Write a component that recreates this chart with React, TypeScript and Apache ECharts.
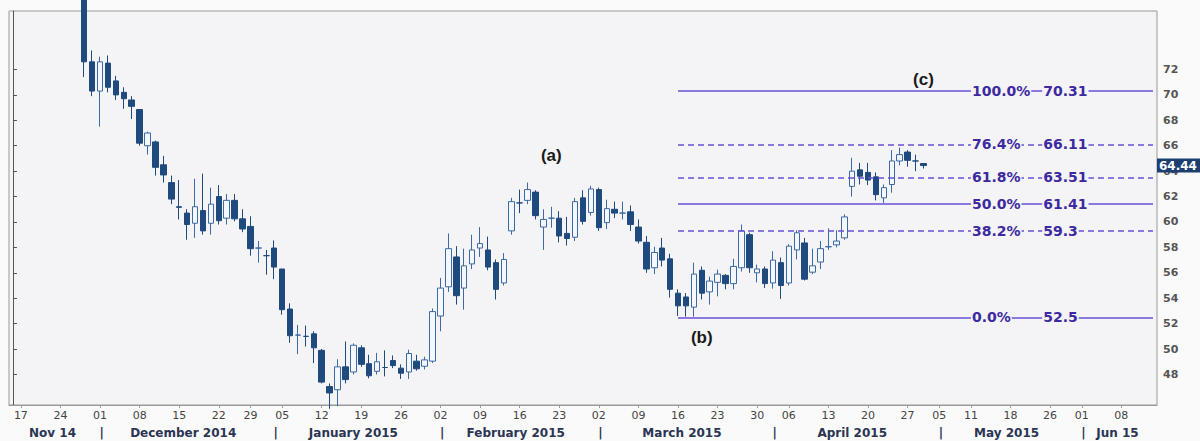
import React, { useEffect, useRef } from 'react';
import * as echarts from 'echarts';

// ---------- data ----------
const START = '2014-11-14';
const END = '2015-06-12';
const HOLIDAYS = ['2014-12-25', '2015-01-01', '2015-04-03', '2015-05-01', '2015-05-04', '2015-05-25'];
const FIRST_CANDLE = '2014-11-27';

// [open, close, low, high] one per trading day from FIRST_CANDLE
const ohlc: number[][] = [
  [77.5, 72.6, 71.4, 77.8], [72.6, 70.3, 69.9, 73.5], [70.3, 72.6, 67.5, 73.0], [72.5, 70.6, 70.2, 73.1],
  [71.1, 70.0, 69.6, 71.5], [70.2, 69.7, 68.9, 70.6], [69.6, 69.1, 68.1, 69.9], [68.85, 66.2, 66.0, 68.85],
  [66.0, 67.0, 65.3, 67.1], [66.3, 64.3, 63.65, 66.4], [64.5, 63.7, 63.1, 65.2], [63.1, 61.8, 61.4, 63.65],
  [61.2, 61.15, 60.2, 63.3], [60.7, 59.8, 58.6, 61.0], [59.9, 61.2, 58.75, 63.4], [60.9, 59.3, 59.0, 63.8],
  [59.9, 61.4, 59.0, 62.7], [62.0, 60.1, 59.8, 62.9], [60.3, 61.7, 59.8, 62.2], [61.7, 60.25, 60.05, 62.2],
  [60.25, 59.45, 59.2, 61.0], [59.65, 57.9, 57.35, 60.45], [57.95, 57.95, 56.8, 58.5], [57.35, 57.35, 55.85, 57.8],
  [57.95, 56.45, 55.5, 58.55], [56.3, 53.1, 52.7, 56.3], [53.15, 51.05, 50.5, 53.6], [51.1, 51.1, 49.6, 51.9],
  [51.0, 51.0, 50.2, 51.85], [51.2, 50.1, 48.9, 51.4], [49.9, 47.4, 47.3, 50.0], [47.05, 46.55, 45.3, 47.3],
  [46.8, 48.6, 45.5, 49.2], [48.6, 47.6, 47.3, 50.6], [48.2, 50.3, 48.0, 50.45], [50.1, 48.8, 48.6, 50.3],
  [48.85, 47.9, 47.7, 49.55], [48.25, 49.0, 48.0, 49.7], [48.55, 48.55, 47.85, 49.9], [49.1, 48.7, 48.5, 49.5],
  [48.5, 48.1, 47.65, 48.8], [48.2, 49.65, 47.65, 49.95], [49.05, 48.45, 48.3, 49.55], [48.65, 49.15, 48.4, 49.4],
  [49.05, 52.95, 48.9, 53.2], [52.6, 54.8, 51.4, 55.6], [54.9, 57.9, 54.5, 59.1], [57.25, 54.2, 53.5, 58.1],
  [54.8, 56.55, 53.1, 57.9], [56.7, 57.8, 56.3, 59.0], [57.95, 58.3, 57.25, 59.6], [57.8, 56.45, 56.2, 58.85],
  [56.8, 54.7, 53.9, 57.05], [55.2, 57.05, 55.0, 57.55], [59.3, 61.6, 59.0, 61.9], [61.5, 61.5, 60.7, 62.55],
  [61.7, 62.55, 61.4, 63.1], [62.35, 60.5, 60.2, 62.5], [59.6, 60.2, 57.8, 61.0], [60.3, 60.3, 59.55, 61.2],
  [60.3, 58.9, 58.4, 60.85], [59.1, 58.7, 58.15, 60.4], [58.8, 61.6, 58.5, 61.9], [61.9, 60.05, 59.8, 62.5],
  [60.75, 62.6, 60.5, 62.85], [62.55, 59.55, 59.3, 62.7], [59.95, 61.05, 59.45, 61.75], [61.0, 60.7, 60.3, 61.6],
  [60.7, 60.7, 60.2, 61.6], [60.8, 59.8, 59.3, 61.3], [59.6, 58.5, 58.3, 60.2], [58.4, 56.3, 56.0, 58.9],
  [56.4, 57.6, 55.9, 58.05], [57.95, 57.0, 56.5, 58.75], [57.1, 54.7, 54.05, 57.5], [54.4, 53.4, 52.6, 54.7],
  [54.1, 53.4, 52.55, 54.4], [53.3, 55.9, 52.55, 56.8], [56.2, 54.4, 53.9, 56.5], [54.5, 55.35, 53.5, 55.7],
  [55.25, 55.9, 54.15, 56.25], [55.8, 55.15, 54.7, 55.9], [55.15, 56.5, 54.7, 57.1], [56.4, 59.3, 56.1, 59.8],
  [59.0, 56.4, 56.0, 59.15], [56.0, 56.3, 55.25, 56.65], [56.3, 55.15, 54.8, 56.5], [55.2, 57.0, 54.75, 57.7],
  [56.8, 55.0, 53.95, 57.2], [55.2, 58.1, 55.0, 58.25], [57.8, 59.15, 57.05, 59.35], [58.35, 55.5, 55.4, 58.75],
  [56.05, 56.55, 55.9, 57.9], [56.85, 57.9, 56.3, 58.5], [58.05, 58.05, 57.8, 59.5], [58.2, 58.5, 58.0, 59.35],
  [58.75, 60.4, 58.6, 60.6], [62.8, 64.0, 62.0, 65.05], [64.1, 63.6, 62.95, 64.65], [63.9, 63.3, 62.9, 64.65],
  [63.55, 62.15, 61.7, 63.9], [61.9, 62.7, 61.5, 62.95], [62.95, 64.8, 62.3, 65.65], [64.8, 65.3, 64.45, 65.85],
  [65.5, 64.85, 64.35, 65.65], [64.8, 64.8, 64.0, 65.3], [64.6, 64.44, 64.2, 64.6],
];

const LAST_PRICE = 64.44;

const monthNames = ['Nov 14', 'December 2014', 'January 2015', 'February 2015', 'March 2015', 'April 2015', 'May 2015', 'Jun 15'];
const yTicks = [48, 50, 52, 54, 56, 58, 60, 62, 64, 66, 68, 70, 72];

const fibPct = ['100.0%', '76.4%', '61.8%', '50.0%', '38.2%', '0.0%'];
const fibVal = [70.31, 66.11, 63.51, 61.41, 59.3, 52.5];
const fibDashed = [false, true, true, false, true, false];
const FIB_START = '2015-03-16';
const FIB_PCT_AT = '2015-05-11';
const FIB_VAL_AT = '2015-05-22';

const waveText = ['(a)', '(b)', '(c)'];
const waveDate = ['2015-02-20', '2015-03-19', '2015-04-29'];
const waveVal = [65.2, 50.9, 71.2];

// ---------- calendar ----------
function fmt(t: number) {
  const d = new Date(t);
  const m = d.getUTCMonth() + 1;
  const dd = d.getUTCDate();
  return `${d.getUTCFullYear()}-${m < 10 ? '0' : ''}${m}-${dd < 10 ? '0' : ''}${dd}`;
}
function parse(s: string) {
  const [y, m, d] = s.split('-').map(Number);
  return Date.UTC(y, m - 1, d);
}
const cats: string[] = [];
for (let t = parse(START); t <= parse(END); t += 86400000) {
  const wd = new Date(t).getUTCDay();
  const s = fmt(t);
  if (wd === 0 || wd === 6 || HOLIDAYS.includes(s)) continue;
  cats.push(s);
}
const weekKey = (s: string) => {
  const t = parse(s);
  const wd = (new Date(t).getUTCDay() + 6) % 7;
  return t - wd * 86400000;
};
const weekStart = cats.map((c, i) => i > 0 && weekKey(c) !== weekKey(cats[i - 1]));

// month spans
const monthSpans: { first: number; last: number }[] = [];
cats.forEach((c, i) => {
  const key = c.slice(0, 7);
  if (i === 0 || key !== cats[i - 1].slice(0, 7)) monthSpans.push({ first: i, last: i });
  else monthSpans[monthSpans.length - 1].last = i;
});
const monthLabelMap = new Map<number, string>();
monthSpans.forEach((m, k) => {
  monthLabelMap.set((m.first + m.last) / 2, monthNames[k]);
  if (k > 0) monthLabelMap.set(m.first + 0.2, '|');
});

const firstIdx = cats.indexOf(FIRST_CANDLE);
const seriesData = cats.map((_, i) => {
  const k = i - firstIdx;
  return k >= 0 && k < ohlc.length ? ohlc[k] : '-';
});

// ---------- layout ----------
const GRID = { left: 9, right: 43, top: 11, bottom: 36 };
const PLOT_BG = '#f4f4f6';
const FIB_LINE = '#6b4fd6';
const FIB_TEXT = '#3d2aa0';

export default function App() {
  const ref = useRef<HTMLDivElement>(null);
  useEffect(() => {
    if (!ref.current) return;
    const chart = echarts.init(ref.current, undefined, { renderer: 'svg' });
    const lastCat = cats[cats.length - 1];

    const fibLines = fibVal.map((v, i) => [
      { coord: [FIB_START, v], lineStyle: { type: fibDashed[i] ? [6, 4] : 'solid', color: FIB_LINE, width: 1.5 } },
      { coord: [lastCat, v] },
    ]);
    const fibLabelStyle = {
      show: true,
      position: [0, 0],
      align: 'left',
      verticalAlign: 'middle',
      color: FIB_TEXT,
      fontFamily: 'DejaVu Sans',
      fontWeight: 'bold',
      fontSize: 14,
      backgroundColor: PLOT_BG,
      padding: [0, 1],
    };
    const markPoints: any[] = [];
    fibVal.forEach((v, i) => {
      markPoints.push({ coord: [FIB_PCT_AT, v], label: { ...fibLabelStyle, formatter: fibPct[i] } });
      markPoints.push({ coord: [FIB_VAL_AT, v], label: { ...fibLabelStyle, formatter: String(v) } });
    });
    waveText.forEach((t, i) => {
      markPoints.push({
        coord: [waveDate[i], waveVal[i]],
        label: {
          show: true,
          position: [0, 0],
          align: 'center',
          verticalAlign: 'middle',
          formatter: t,
          color: '#1a1a1a',
          fontFamily: 'Liberation Sans',
          fontWeight: 'bold',
          fontSize: 17,
        },
      });
    });

    chart.setOption({
      animation: false,
      backgroundColor: '#fafafb',
      grid: { ...GRID, show: true, borderColor: '#9a9a9a', borderWidth: 1, backgroundColor: PLOT_BG },
      xAxis: [
        {
          type: 'category',
          data: cats,
          boundaryGap: true,
          axisLine: { show: true, lineStyle: { color: '#9a9a9a' } },
          axisTick: { show: true, alignWithLabel: true, length: 3, interval: (i: number) => weekStart[i], lineStyle: { color: '#999' } },
          axisLabel: {
            interval: (i: number) => weekStart[i],
            formatter: (v: string) => v.slice(8, 10),
            color: '#444',
            fontFamily: 'DejaVu Sans',
            fontSize: 11,
            margin: 5,
          },
          splitLine: { show: false },
        },
        {
          type: 'value',
          position: 'bottom',
          offset: 17,
          min: -0.5,
          max: cats.length - 0.5,
          axisLine: { show: false },
          axisTick: { show: false },
          splitLine: { show: false },
          axisLabel: {
            customValues: Array.from(monthLabelMap.keys()),
            formatter: (v: number) => monthLabelMap.get(v) ?? '',
            color: '#2b3553',
            fontFamily: 'DejaVu Sans',
            fontWeight: 'bold',
            fontSize: 12,
            margin: 5,
            showMinLabel: true,
            showMaxLabel: true,
            hideOverlap: false,
          },
        },
      ],
      yAxis: {
        type: 'value',
        position: 'right',
        min: 45.6,
        max: 76.6,
        scale: true,
        axisLine: { show: true, lineStyle: { color: '#555' } },
        axisTick: { show: true, length: 4, customValues: yTicks, lineStyle: { color: '#555' } },
        axisLabel: {
          customValues: yTicks,
          color: '#555',
          fontFamily: 'DejaVu Sans',
          fontWeight: 'bold',
          fontSize: 11,
          margin: 6,
        },
        splitLine: { show: false },
      },
      series: [
        {
          type: 'candlestick',
          data: seriesData,
          barWidth: 6,
          clip: true,
          itemStyle: {
            color: '#f4f7fc',
            color0: '#1f4a7d',
            borderColor: '#3b6aa5',
            borderColor0: '#1f4a7d',
            borderWidth: 1,
          },
          markLine: {
            silent: true,
            symbol: ['none', 'none'],
            label: { show: false },
            data: fibLines,
          },
          markPoint: {
            silent: true,
            symbol: 'circle',
            symbolSize: 0,
            itemStyle: { color: 'transparent' },
            data: markPoints,
          },
        },
      ],
    });

    const y = chart.convertToPixel({ yAxisIndex: 0 }, LAST_PRICE) as number;
    const xRight = 1200 - GRID.right;
    chart.setOption({
      graphic: [
        { type: 'rect', z: 100, shape: { x: xRight, y: y - 7, width: 50, height: 14 }, style: { fill: '#1c3e70' } },
        {
          type: 'text',
          z: 101,
          x: xRight + 2,
          y,
          style: { text: String(LAST_PRICE), fill: '#ffffff', font: 'bold 12px "DejaVu Sans"', verticalAlign: 'middle' },
        },
      ],
    });

    return () => chart.dispose();
  }, []);
  return <div ref={ref} style={{ position: 'absolute', left: 0, top: 0, width: 1200, height: 441 }} />;
}
